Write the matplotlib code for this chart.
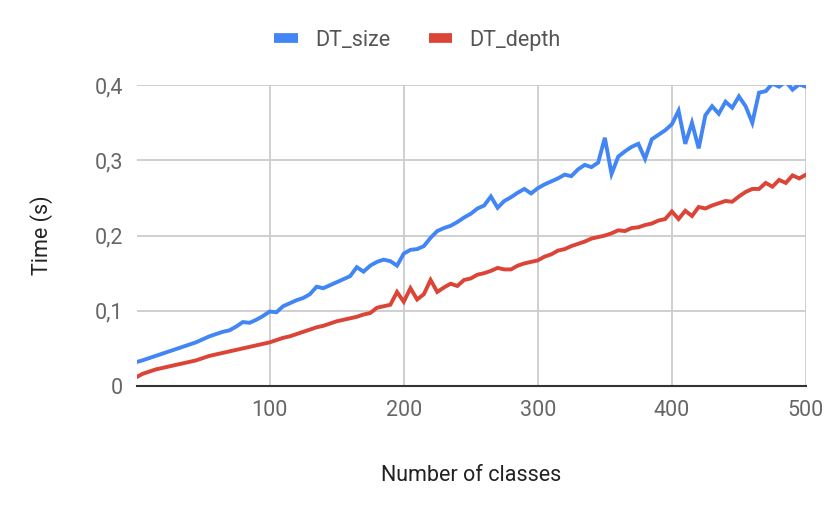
import matplotlib
matplotlib.use("Agg")
import matplotlib.pyplot as plt
from matplotlib.lines import Line2D

classes = [1] + list(range(5, 501, 5))

dt_size = [0.032, 0.034, 0.037, 0.040, 0.043, 0.046, 0.049, 0.052, 0.055, 0.058,
           0.062, 0.066, 0.069, 0.072, 0.074, 0.079, 0.085, 0.084, 0.088, 0.093,
           0.099, 0.098, 0.106, 0.110, 0.114, 0.117, 0.122, 0.132, 0.130, 0.134,
           0.138, 0.142, 0.146, 0.158, 0.152, 0.160, 0.165, 0.168, 0.166, 0.160,
           0.176, 0.181, 0.182, 0.186, 0.197, 0.206, 0.210, 0.213, 0.218, 0.224,
           0.229, 0.236, 0.240, 0.252, 0.237, 0.246, 0.251, 0.257, 0.262, 0.256,
           0.263, 0.268, 0.272, 0.276, 0.281, 0.279, 0.288, 0.294, 0.291, 0.297,
           0.330, 0.282, 0.305, 0.312, 0.318, 0.322, 0.302, 0.328, 0.334, 0.340,
           0.348, 0.366, 0.322, 0.350, 0.316, 0.360, 0.372, 0.362, 0.378, 0.370,
           0.385, 0.372, 0.350, 0.390, 0.392, 0.402, 0.398, 0.405, 0.394, 0.401,
           0.398]

dt_depth = [0.012, 0.016, 0.019, 0.022, 0.024, 0.026, 0.028, 0.030, 0.032, 0.034,
            0.037, 0.040, 0.042, 0.044, 0.046, 0.048, 0.050, 0.052, 0.054, 0.056,
            0.058, 0.061, 0.064, 0.066, 0.069, 0.072, 0.075, 0.078, 0.080, 0.083,
            0.086, 0.088, 0.090, 0.092, 0.095, 0.097, 0.104, 0.106, 0.108, 0.125,
            0.112, 0.130, 0.115, 0.122, 0.141, 0.125, 0.131, 0.136, 0.133, 0.141,
            0.143, 0.148, 0.150, 0.153, 0.157, 0.155, 0.155, 0.160, 0.163, 0.165,
            0.167, 0.172, 0.175, 0.180, 0.182, 0.186, 0.189, 0.192, 0.196, 0.198,
            0.200, 0.203, 0.207, 0.206, 0.210, 0.211, 0.214, 0.216, 0.220, 0.222,
            0.232, 0.222, 0.233, 0.226, 0.238, 0.236, 0.240, 0.243, 0.246, 0.245,
            0.252, 0.258, 0.262, 0.262, 0.270, 0.265, 0.274, 0.270, 0.280, 0.276,
            0.281]

series_names = ["DT_size", "DT_depth"]
colors = ["#4285F4", "#DB4437"]
x_ticks = [100, 200, 300, 400, 500]
y_ticks = [0, 0.1, 0.2, 0.3, 0.4]
y_labels = ["0", "0,1", "0,2", "0,3", "0,4"]

plt.rcParams['font.family'] = ['Roboto', 'DejaVu Sans']
fs = 15.5

fig = plt.figure(figsize=(8.3, 5.13), dpi=100)
ax = fig.add_axes([0.165, 0.2476, 0.806, 0.5864])

for ys, c in zip([dt_size, dt_depth], colors):
    ax.plot(classes, ys, color=c, lw=2.8, solid_joinstyle='miter')

ax.set_xlim(1, 500)
ax.set_ylim(0, 0.4)
ax.set_xticks(x_ticks)
ax.set_yticks(y_ticks)
ax.set_yticklabels(y_labels)
ax.grid(True, color="#cccccc", lw=1.3)
ax.set_axisbelow(True)
for s in ["top", "right", "left"]:
    ax.spines[s].set_visible(False)
ax.spines["bottom"].set_color("#333333")
ax.spines["bottom"].set_linewidth(1.5)
ax.tick_params(length=0, labelsize=fs, labelcolor="#666666", pad=10)

ax.set_xlabel("Number of classes", fontsize=fs, color="#222222", labelpad=32)
ax.set_ylabel("Time (s)", fontsize=fs, color="#222222", labelpad=30)

handles = [Line2D([0], [0], color=c, lw=7, solid_capstyle='butt') for c in colors]
fig.legend(handles, series_names, loc="center", bbox_to_anchor=(0.503, 0.921),
           ncol=2, frameon=False, fontsize=fs, handlelength=1.1,
           columnspacing=1.8, handletextpad=0.8, labelcolor="#555555")

fig.savefig("out.png", dpi=100)
